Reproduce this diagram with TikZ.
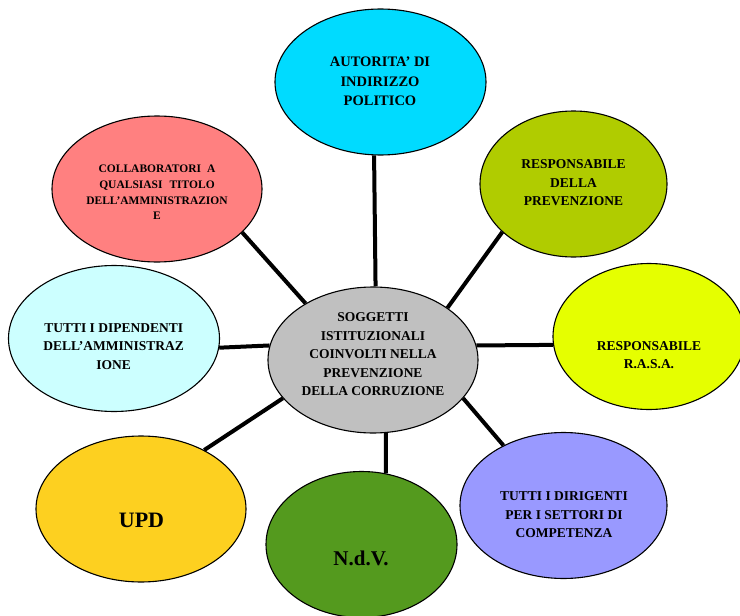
\documentclass[tikz,border=0pt]{standalone}
\usepackage{fontspec}
\setmainfont{Liberation Serif}
\usetikzlibrary{shapes.geometric,backgrounds}
\definecolor{cAut}{RGB}{0,219,255}
\definecolor{cPrev}{RGB}{176,204,0}
\definecolor{cRasa}{RGB}{229,255,0}
\definecolor{cDir}{RGB}{153,153,255}
\definecolor{cNdv}{RGB}{84,154,30}
\definecolor{cUpd}{RGB}{253,208,32}
\definecolor{cDip}{RGB}{204,255,255}
\definecolor{cColl}{RGB}{255,128,128}
\definecolor{cCen}{RGB}{192,192,192}
\begin{document}
\begin{tikzpicture}[x=1pt,y=-1pt,
  bubble/.style={ellipse,draw=black,line width=1.1pt,inner sep=0pt,minimum height=146pt},
  txt/.style={align=center,inner sep=0pt,font=\bfseries\fontsize{13.5}{18.5}\selectfont},
  link/.style={line width=4pt}]
\useasboundingbox (0,0) rectangle (740,616);
\clip (0,0) rectangle (740,616);
% bubbles
\node[bubble,fill=cCen,minimum width=210pt] (c) at (373,360) {};
\node[bubble,fill=cAut,minimum width=211pt] (aut) at (380.5,82) {};
\node[bubble,fill=cPrev,minimum width=187pt] (prev) at (573.5,184) {};
\node[bubble,fill=cRasa,minimum width=192pt] (rasa) at (649,336.5) {};
\node[bubble,fill=cDir,minimum width=207pt] (dir) at (563.5,505.5) {};
\node[bubble,fill=cNdv,minimum width=191pt] (ndv) at (361.5,544.5) {};
\node[bubble,fill=cUpd,minimum width=210pt] (upd) at (141,509) {};
\node[bubble,fill=cDip,minimum width=211pt] (dip) at (114,338.5) {};
\node[bubble,fill=cColl,minimum width=210pt] (coll) at (157,189) {};
% texts
\node[txt] (tc) at (373,354.3) {SOGGETTI\\ISTITUZIONALI\\COINVOLTI NELLA\\PREVENZIONE\\DELLA CORRUZIONE};
\node[txt,font=\bfseries\fontsize{14.5}{19.5}\selectfont] (taut) at (380,81.5) {AUTORITA’ DI\\INDIRIZZO\\POLITICO};
\node[txt] (tprev) at (573.5,183) {RESPONSABILE\\DELLA\\PREVENZIONE};
\node[txt,font=\bfseries\fontsize{13.5}{18}\selectfont] (trasa) at (649,355) {RESPONSABILE\\R.A.S.A.};
\node[txt] (tdir) at (564,515) {TUTTI I DIRIGENTI\\PER I SETTORI DI\\COMPETENZA};
\node[txt,font=\bfseries\fontsize{21}{24}\selectfont] (tndv) at (361,558) {N.d.V.};
\node[txt,font=\bfseries\fontsize{22}{25}\selectfont] (tupd) at (141.5,520.6) {UPD};
\node[txt,font=\bfseries\fontsize{13.5}{18.7}\selectfont] (tdip) at (113.7,346.6) {TUTTI I DIPENDENTI\\DELL’AMMINISTRAZ\\IONE};
\node[txt,font=\bfseries\fontsize{11.5}{15.7}\selectfont] (tcoll) at (157,192.5) {COLLABORATORI\hspace{6pt}A\\QUALSIASI\hspace{7pt}TITOLO\\DELL’AMMINISTRAZION\\E};
% connectors
\begin{scope}[on background layer]
\draw[link] (c.88.4) -- (aut.265.7);
\draw[link] (c.35.1) -- (prev.214.4);
\draw[link] (c.8.1) -- (rasa.185);
\draw[link] (c.337.1) -- (dir.135.9);
\draw[link] (c.280) -- (ndv.71.4);
\draw[link] (c.203.2) -- (upd.43.6);
\draw[link] (c.172.4) -- (dip.355.9);
\draw[link] (c.140.4) -- (coll.333);
\end{scope}
\end{tikzpicture}
\end{document}
